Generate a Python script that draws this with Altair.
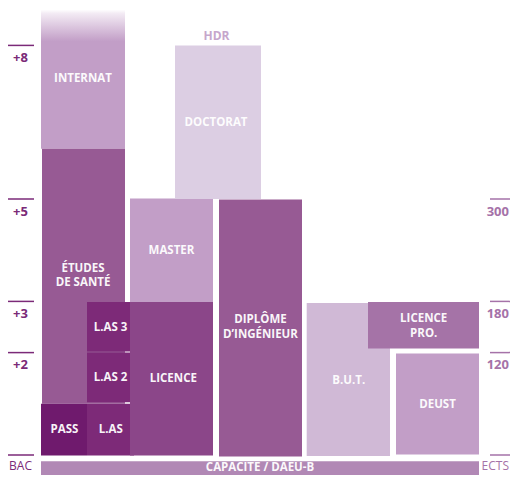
import altair as alt
import pandas as pd

# ---- Diagram data (x in layout units, y in years after BAC) ----
box_names = ["internat", "sante", "pass", "las1", "las2", "las3", "licence", "master",
             "doctorat", "ingenieur", "but", "lpro", "deust", "capacite"]
box_x0 = [41, 42, 41, 87, 87, 87, 130, 130, 175, 219, 306.7, 368, 396, 41]
box_x1 = [125, 125, 87, 134, 134, 134, 213, 213, 261, 302, 390, 479, 479, 479]
box_y0 = [5.98, 1.0, -0.01, -0.01, 1.03, 2.02, -0.01, 2.99, 5.0, -0.03, -0.02, 2.08, 0.01, -0.6]
box_y1 = [8.12, 5.98, 1.0, 1.0, 2.0, 2.99, 2.99, 5.01, 8.0, 4.99, 2.97, 2.99, 1.98, -0.12]
box_colors = ["#c29ec7", "#975a94", "#6f1a6d", "#7d2a78", "#7d2a78", "#7d2a78", "#8b4689",
              "#c29ec7", "#dccee3", "#975a94", "#d0b9d6", "#a573a7", "#c29ec7", "#b188b5"]

# fading top of INTERNAT
fade_x0 = [41]
fade_x1 = [125]
fade_y0 = [8.08]
fade_y1 = [8.70]

label_texts = ["INTERNAT", "DOCTORAT", "ÉTUDES", "DE SANTÉ", "MASTER", "L.AS 3", "L.AS 2", "L.AS",
               "PASS", "LICENCE", "DIPLÔME", "D’INGÉNIEUR", "B.U.T.", "LICENCE", "PRO.", "DEUST",
               "CAPACITÉ / DAEU-B"]
label_x = [83, 216, 83, 83, 171.5, 110.5, 110.5, 110.7, 64.5, 173.3, 260.5, 260.5, 348.8,
           423.7, 423.7, 437.5, 260]
label_y = [7.34, 6.49, 3.64, 3.35, 3.99, 2.49, 1.50, 0.48, 0.48, 1.48, 2.64, 2.35, 1.45,
           2.66, 2.37, 0.98, -0.254]

hdr_text = ["HDR"]
hdr_x = [216.5]
hdr_y = [8.19]

left_levels = [8, 5, 3, 2]
left_labels = ["+8", "+5", "+3", "+2"]
right_levels = [5, 3, 2]
right_labels = ["300", "180", "120"]
base_level = [0]
left_base = ["BAC"]
right_base = ["ECTS"]

# ---- build tables ----
boxes = pd.DataFrame({"name": box_names, "x0": box_x0, "x1": box_x1,
                      "y0": box_y0, "y1": box_y1, "color": box_colors})
fade = pd.DataFrame({"x0": fade_x0, "x1": fade_x1, "y0": fade_y0, "y1": fade_y1})
labels = pd.DataFrame({"t": label_texts, "x": label_x, "y": label_y})
hdr = pd.DataFrame({"t": hdr_text, "x": hdr_x, "y": hdr_y})

lt = pd.DataFrame({"lvl": left_levels + base_level, "t": left_labels + left_base,
                   "xa": 7, "xb": 34, "xt": 20.5})
rt = pd.DataFrame({"lvl": right_levels + base_level, "t": right_labels + right_base,
                   "xa": 490, "xb": 512, "xt": 509})

W, H = 502, 467
BASE, K = 455, 51.2   # page y of BAC and pixels per year
xs = alt.Scale(domain=[8, 8 + W], nice=False, zero=False)
ys = alt.Scale(domain=[(BASE - 8 - H) / K, (BASE - 8) / K], nice=False, zero=False)

X = lambda f: alt.X(f, type="quantitative", scale=xs, axis=None)
Y = lambda f: alt.Y(f, type="quantitative", scale=ys, axis=None)

FONT = "Open Sans"

rects = alt.Chart(boxes).mark_rect(clip=True).encode(
    x=X("x0"), x2="x1", y=Y("y0"), y2="y1",
    color=alt.Color("color:N", scale=None))

fade_rect = alt.Chart(fade).mark_rect(
    color=alt.Gradient(gradient="linear",
                       stops=[alt.GradientStop(color="#ffffff", offset=0),
                              alt.GradientStop(color="#f3ebf4", offset=0.12),
                              alt.GradientStop(color="#c29ec7", offset=1)],
                       x1=0, x2=0, y1=0, y2=1)
).encode(x=X("x0"), x2="x1", y=Y("y0"), y2="y1")

box_text = alt.Chart(labels).mark_text(
    font=FONT, fontSize=11.5, fontWeight="bold", color="#ffffff",
    align="center", baseline="middle", opacity=0.95
).encode(x=X("x"), y=Y("y"), text="t:N")

hdr_layer = alt.Chart(hdr).mark_text(
    font=FONT, fontSize=12, fontWeight="bold", color="#c6a6cc",
    align="center", baseline="middle"
).encode(x=X("x"), y=Y("y"), text="t:N")

left_rules = alt.Chart(lt).mark_rule(color="#7b2a78", strokeWidth=1.5).encode(
    x=X("xa"), x2="xb", y=Y("lvl"))
left_bold = alt.Chart(lt[lt["lvl"] > 0]).mark_text(
    font=FONT, fontSize=13, fontWeight="bold", color="#7b2a78",
    align="center", baseline="middle", dy=12.5
).encode(x=X("xt"), y=Y("lvl"), text="t:N")
left_reg = alt.Chart(lt[lt["lvl"] == 0]).mark_text(
    font=FONT, fontSize=12, color="#7b2a78",
    align="center", baseline="middle", dy=11
).encode(x=X("xt"), y=Y("lvl"), text="t:N")

right_rules = alt.Chart(rt).mark_rule(color="#a572a8", strokeWidth=1.5).encode(
    x=X("xa"), x2="xb", y=Y("lvl"))
right_bold = alt.Chart(rt[rt["lvl"] > 0]).mark_text(
    font=FONT, fontSize=13, fontWeight="bold", color="#a572a8",
    align="right", baseline="middle", dy=12.5
).encode(x=X("xt"), y=Y("lvl"), text="t:N")
right_reg = alt.Chart(rt[rt["lvl"] == 0]).mark_text(
    font=FONT, fontSize=12, color="#a572a8",
    align="right", baseline="middle", dy=11
).encode(x=X("xt"), y=Y("lvl"), text="t:N")

chart = alt.layer(
    rects, fade_rect, box_text, hdr_layer,
    left_rules, left_bold, left_reg, right_rules, right_bold, right_reg
).properties(
    width=W, height=H, padding=0,
    autosize=alt.AutoSizeParams(type="none")
).configure_view(stroke=None)

chart.save("out.html", embed_options={"renderer": "svg", "actions": False})
